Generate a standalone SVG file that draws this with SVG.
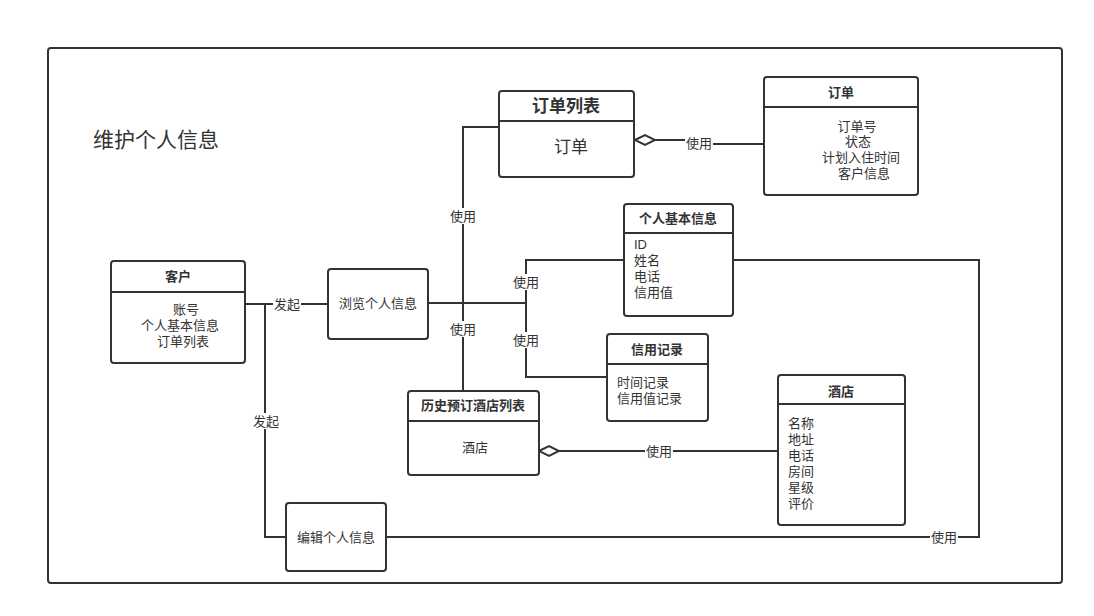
<svg xmlns="http://www.w3.org/2000/svg" width="1094" height="616" viewBox="0 0 1094 616">
<style>
text{font-family:"Liberation Sans","Noto Sans CJK SC",sans-serif;fill:#333;font-size:13px}
.box{fill:#fff;stroke:#333;stroke-width:2}
.hd{stroke:#333;stroke-width:2}
.t{font-weight:bold;text-anchor:middle}
.c{text-anchor:middle}
.ln{fill:none;stroke:#333;stroke-width:2}
.lbl{text-anchor:middle;dominant-baseline:central}
.bg{fill:#fff}
.dia{fill:#fff;stroke:#333;stroke-width:2}
</style>
<rect width="1094" height="616" fill="#fff"/>
<rect x="48" y="48" width="1014" height="535" rx="3" fill="none" stroke="#333" stroke-width="2"/>
<text x="93" y="147" style="font-size:21px">维护个人信息</text>

<g id="connectors">
<path class="ln" d="M655,140 H712 V144 H764"/>
<path class="dia" d="M635,140 L645,135 L655,140 L645,145 Z"/>
<rect class="bg" x="685" y="134" width="28" height="16"/>
<text class="lbl" x="699" y="143">使用</text>

<path class="ln" d="M245,304 H328"/>
<rect class="bg" x="273" y="296" width="28" height="16"/>
<text class="lbl" x="287" y="304">发起</text>
<path class="ln" d="M265,304 V537 H286"/>
<rect class="bg" x="252" y="413" width="28" height="16"/>
<text class="lbl" x="266" y="421">发起</text>

<path class="ln" d="M386,537 H979 V260 H733"/>
<rect class="bg" x="930" y="529" width="28" height="16"/>
<text class="lbl" x="944" y="537">使用</text>

<path class="ln" d="M428,303 H526"/>
<path class="ln" d="M463,303 V127 H499"/>
<rect class="bg" x="449" y="208" width="28" height="16"/>
<text class="lbl" x="463" y="216">使用</text>
<path class="ln" d="M463,303 V391"/>
<rect class="bg" x="449" y="321" width="28" height="16"/>
<text class="lbl" x="463" y="329">使用</text>

<path class="ln" d="M526,303 V260 H624"/>
<rect class="bg" x="512" y="274" width="28" height="16"/>
<text class="lbl" x="526" y="282">使用</text>
<path class="ln" d="M526,303 V377 H607"/>
<rect class="bg" x="512" y="332" width="28" height="16"/>
<text class="lbl" x="526" y="340">使用</text>

<path class="ln" d="M559,451 H778"/>
<path class="dia" d="M539,451 L549,446 L559,451 L549,456 Z"/>
<rect class="bg" x="645" y="443" width="28" height="16"/>
<text class="lbl" x="659" y="451">使用</text>
</g>

<g id="order-list">
<rect class="box" x="499" y="91" width="135" height="86" rx="3"/>
<line class="hd" x1="499" y1="121" x2="634" y2="121"/>
<text class="t" x="566" y="112" style="font-size:17px">订单列表</text>
<text class="c" x="571" y="153" style="font-size:17px">订单</text>
</g>

<g id="order">
<rect class="box" x="764" y="77" width="154" height="118" rx="3"/>
<line class="hd" x1="764" y1="107" x2="918" y2="107"/>
<text class="t" x="841" y="97">订单</text>
<text class="c" x="857" y="131">订单号</text>
<text class="c" x="858" y="146">状态</text>
<text class="c" x="861" y="162">计划入住时间</text>
<text class="c" x="864" y="178">客户信息</text>
</g>

<g id="customer">
<rect class="box" x="111" y="261" width="134" height="102" rx="3"/>
<line class="hd" x1="111" y1="292" x2="245" y2="292"/>
<text class="t" x="178" y="281">客户</text>
<text class="c" x="186" y="314">账号</text>
<text class="c" x="180" y="330">个人基本信息</text>
<text class="c" x="183" y="346">订单列表</text>
</g>

<g id="browse">
<rect class="box" x="328" y="269" width="100" height="70" rx="3"/>
<text class="c" x="378" y="308">浏览个人信息</text>
</g>

<g id="edit">
<rect class="box" x="286" y="503" width="100" height="68" rx="3"/>
<text class="c" x="336" y="542">编辑个人信息</text>
</g>

<g id="basic-info">
<rect class="box" x="624" y="204" width="109" height="112" rx="3"/>
<line class="hd" x1="624" y1="233" x2="733" y2="233"/>
<text class="t" x="678" y="223">个人基本信息</text>
<text x="634" y="249">ID</text>
<text x="634" y="265">姓名</text>
<text x="634" y="281">电话</text>
<text x="634" y="297">信用值</text>
</g>

<g id="credit">
<rect class="box" x="607" y="334" width="101" height="87" rx="3"/>
<line class="hd" x1="607" y1="364" x2="708" y2="364"/>
<text class="t" x="657" y="354">信用记录</text>
<text x="617" y="387">时间记录</text>
<text x="617" y="403">信用值记录</text>
</g>

<g id="history">
<rect class="box" x="408" y="391" width="131" height="84" rx="3"/>
<line class="hd" x1="408" y1="421" x2="539" y2="421"/>
<text class="t" x="473" y="410">历史预订酒店列表</text>
<text class="c" x="475" y="452">酒店</text>
</g>

<g id="hotel">
<rect class="box" x="778" y="375" width="127" height="150" rx="3"/>
<line class="hd" x1="778" y1="404" x2="905" y2="404"/>
<text class="t" x="841" y="396">酒店</text>
<text x="788" y="428">名称</text>
<text x="788" y="444">地址</text>
<text x="788" y="460">电话</text>
<text x="788" y="476">房间</text>
<text x="788" y="492">星级</text>
<text x="788" y="508">评价</text>
</g>
</svg>
